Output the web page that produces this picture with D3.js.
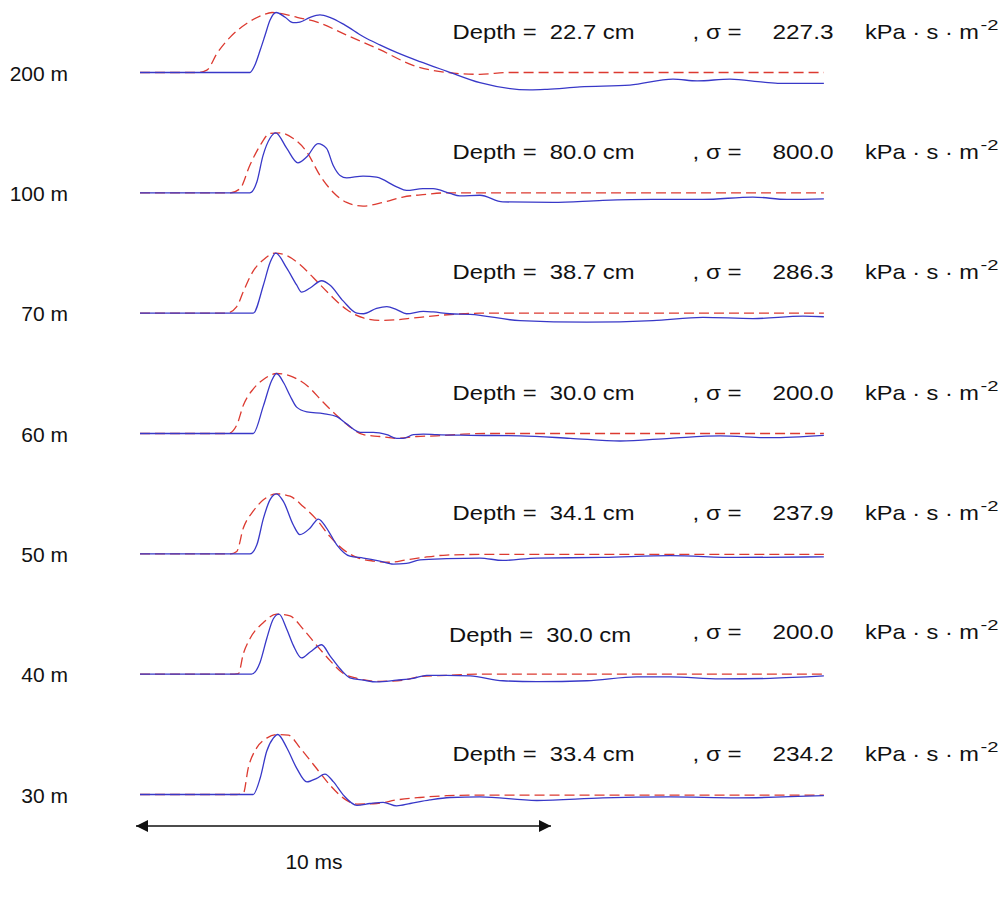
<!DOCTYPE html>
<html>
<head>
<meta charset="utf-8">
<script src="https://cdn.jsdelivr.net/npm/d3@7"></script>
<style>
  html, body { margin: 0; padding: 0; background: #ffffff; }
  svg text { font-family: "Liberation Sans", Arial, sans-serif; fill: #111; }
</style>
</head>
<body>
<div id="chart"></div>
<script>
// Distance from the source, one waveform pair per row (top to bottom)
const distances = ["200 m", "100 m", "70 m", "60 m", "50 m", "40 m", "30 m"];
// Fitted ground parameters for each row
const depths = ["22.7", "80.0", "38.7", "30.0", "34.1", "30.0", "33.4"];
const sigmas = ["227.3", "800.0", "286.3", "200.0", "237.9", "200.0", "234.2"];

// Waveforms: [time in ms, amplitude normalised to the peak]
// measured = solid blue, model = dashed red
const measured200 = [[0,0],[2.68,0],[2.80,0.12],[2.93,0.37],[3.05,0.62],[3.17,0.87],[3.32,1.0],[3.54,0.92],[3.73,0.83],[3.90,0.84],[4.15,0.92],[4.39,0.96],[4.63,0.92],[5.0,0.79],[5.44,0.60],[5.85,0.46],[6.27,0.33],[6.83,0.18],[7.49,0.02],[8.29,-0.17],[9.51,-0.29],[9.93,-0.28],[10.73,-0.24],[11.95,-0.21],[13.0,-0.11],[13.59,-0.14],[14.39,-0.11],[15.2,-0.16],[15.61,-0.18],[16.68,-0.18]];
const model200 = [[0,0],[1.41,0],[1.63,0.04],[1.88,0.32],[2.20,0.59],[2.61,0.82],[3.0,0.96],[3.22,1.0],[3.54,0.97],[3.83,0.92],[4.32,0.84],[5.05,0.62],[5.85,0.38],[6.66,0.12],[7.49,0.0],[8.29,-0.03],[9.0,0],[16.68,0]];

const measured100 = [[0,0],[2.68,0],[2.85,0.18],[3.0,0.62],[3.17,0.91],[3.31,1.0],[3.58,0.74],[3.85,0.50],[4.07,0.6],[4.34,0.82],[4.55,0.74],[4.71,0.46],[4.88,0.29],[5.04,0.25],[5.44,0.28],[5.77,0.26],[6.26,0.10],[6.5,0.04],[6.9,0.07],[7.15,0.07],[7.56,-0.01],[7.8,-0.05],[8.29,-0.04],[8.85,-0.15],[10.07,-0.16],[11.29,-0.125],[12.51,-0.11],[13.73,-0.11],[14.95,-0.07],[15.78,-0.11],[16.68,-0.10]];
const model100 = [[0,0],[2.2,0],[2.44,0.07],[2.68,0.46],[2.93,0.79],[3.17,0.99],[3.41,1.0],[3.73,0.91],[4.07,0.68],[4.39,0.29],[4.71,0.01],[5.04,-0.16],[5.44,-0.22],[5.93,-0.16],[6.41,-0.07],[6.9,-0.03],[7.49,0],[16.68,0]];

const measured70 = [[0,0],[2.76,0],[3.01,0.47],[3.17,0.84],[3.31,1.0],[3.58,0.75],[3.82,0.47],[3.94,0.35],[4.15,0.42],[4.43,0.54],[4.63,0.47],[4.96,0.20],[5.29,0.0],[5.45,-0.01],[5.77,0.08],[6.02,0.11],[6.26,0.06],[6.5,-0.01],[6.91,0.03],[7.15,0.02],[7.56,-0.01],[8.05,-0.02],[9.27,-0.125],[10.9,-0.15],[12.51,-0.125],[13.73,-0.07],[14.95,-0.09],[16.17,-0.05],[16.68,-0.06]];
const model70 = [[0,0],[2.11,0],[2.36,0.11],[2.52,0.36],[2.76,0.70],[3.01,0.89],[3.29,1.0],[3.58,0.96],[3.9,0.81],[4.23,0.59],[4.63,0.31],[5.04,0.06],[5.45,-0.08],[5.85,-0.12],[6.26,-0.11],[6.67,-0.08],[7.24,-0.04],[7.89,-0.01],[8.29,0],[16.68,0]];

const measured60 = [[0,0],[2.76,0],[3.01,0.46],[3.21,0.88],[3.33,1.0],[3.50,0.85],[3.66,0.63],[3.82,0.44],[4.07,0.36],[4.47,0.33],[4.8,0.28],[5.04,0.16],[5.37,0.02],[5.69,0.02],[6.02,-0.02],[6.26,-0.08],[6.42,-0.08],[6.67,-0.02],[6.91,-0.01],[7.24,-0.02],[8.05,-0.03],[9.27,-0.04],[10.49,-0.08],[11.71,-0.125],[12.93,-0.08],[14.15,-0.04],[15.37,-0.07],[16.68,-0.03]];
const model60 = [[0,0],[2.15,0],[2.36,0.14],[2.52,0.47],[2.76,0.74],[3.01,0.90],[3.33,1.0],[3.66,0.96],[4.07,0.80],[4.47,0.52],[4.8,0.30],[5.12,0.11],[5.45,-0.02],[5.85,-0.05],[6.26,-0.08],[6.75,-0.05],[7.24,-0.04],[7.89,-0.01],[8.5,0],[16.68,0]];

const measured50 = [[0,0],[2.68,0],[2.85,0.15],[3.01,0.59],[3.17,0.9],[3.33,1.0],[3.5,0.87],[3.74,0.48],[3.9,0.32],[4.15,0.43],[4.35,0.58],[4.55,0.43],[4.8,0.15],[5.12,-0.04],[5.45,-0.07],[5.85,-0.12],[6.18,-0.17],[6.5,-0.16],[6.83,-0.1],[7.48,-0.08],[8.29,-0.07],[8.85,-0.11],[9.68,-0.07],[11.29,-0.06],[12.93,-0.03],[14.56,-0.06],[16.68,-0.05]];
const model50 = [[0,0],[2.2,0],[2.36,0.04],[2.52,0.43],[2.76,0.71],[3.01,0.9],[3.33,1.0],[3.66,0.96],[3.98,0.79],[4.31,0.57],[4.63,0.29],[4.96,0.07],[5.29,-0.06],[5.69,-0.12],[6.1,-0.14],[6.5,-0.1],[6.91,-0.06],[7.48,-0.02],[8.29,-0.01],[16.68,-0.01]];

const measured40 = [[0,0],[2.72,0],[2.93,0.2],[3.09,0.59],[3.25,0.92],[3.39,1.0],[3.58,0.75],[3.74,0.48],[3.94,0.27],[4.15,0.37],[4.43,0.49],[4.63,0.31],[4.88,0.09],[5.12,-0.06],[5.45,-0.1],[5.77,-0.13],[6.26,-0.1],[6.67,-0.07],[6.99,-0.02],[7.48,-0.02],[8.05,-0.03],[8.85,-0.11],[9.68,-0.125],[10.9,-0.11],[12.12,-0.045],[12.93,-0.045],[14.15,-0.08],[15.37,-0.07],[16.68,-0.03]];
const model40 = [[0,0],[2.2,0],[2.4,0.01],[2.52,0.34],[2.68,0.59],[3.01,0.86],[3.33,1.0],[3.66,0.97],[3.98,0.75],[4.31,0.48],[4.63,0.23],[4.96,0.01],[5.29,-0.07],[5.85,-0.12],[6.42,-0.1],[6.83,-0.04],[7.48,-0.02],[8.29,0],[16.68,0]];

const measured30 = [[0,0],[2.76,0],[2.93,0.27],[3.09,0.72],[3.25,0.94],[3.36,1.0],[3.58,0.78],[3.82,0.44],[4.07,0.21],[4.31,0.27],[4.51,0.34],[4.72,0.21],[4.96,-0.01],[5.29,-0.18],[5.61,-0.15],[5.93,-0.13],[6.26,-0.19],[6.59,-0.15],[7.07,-0.09],[7.56,-0.05],[8.29,-0.04],[9.68,-0.1],[11.29,-0.055],[12.93,-0.04],[14.56,-0.055],[16.68,-0.02]];
const model30 = [[0,0],[2.36,0],[2.52,0.02],[2.64,0.44],[2.85,0.78],[3.09,0.94],[3.33,1.0],[3.62,0.99],[3.9,0.78],[4.23,0.5],[4.63,0.16],[4.96,-0.06],[5.29,-0.16],[5.77,-0.15],[6.26,-0.09],[6.83,-0.05],[7.48,-0.02],[8.29,-0.01],[16.68,-0.01]];

const measured = [measured200, measured100, measured70, measured60, measured50, measured40, measured30];
const model = [model200, model100, model70, model60, model50, model40, model30];

// Time scale bar
const scaleBarMs = 10;
const scaleBarLabel = "10 ms";

// ---------------------------------------------------------------
const width = 1001, height = 902;

const svg = d3.select("#chart").append("svg")
  .attr("width", width).attr("height", height)
  .attr("viewBox", [0, 0, width, height]);

const x = d3.scaleLinear().domain([0, scaleBarMs]).range([140, 550]);
const row = d3.scalePoint().domain(distances).range([72.5, 794.5]);
const amp = d3.scaleLinear().domain([0, 1]).range([0, -60]);

const colorMeasured = "#3838c8";
const colorModel = "#dc3a30";

const line = d3.line()
  .x(d => x(d[0]))
  .y(d => amp(d[1]))
  .curve(d3.curveMonotoneX);

const rows = svg.selectAll("g.row")
  .data(distances.map((name, i) => ({name, i})))
  .join("g")
  .attr("class", "row")
  .attr("transform", d => `translate(0,${row(d.name)})`);

// model (dashed) first, measured trace on top
rows.append("path")
  .attr("d", d => line(model[d.i]))
  .attr("fill", "none")
  .attr("stroke", colorModel)
  .attr("stroke-width", 1.3)
  .attr("stroke-dasharray", "10,5");

rows.append("path")
  .attr("d", d => line(measured[d.i]))
  .attr("fill", "none")
  .attr("stroke", colorMeasured)
  .attr("stroke-width", 1.3);

// distance labels
rows.append("text")
  .attr("x", 68).attr("y", 8)
  .attr("text-anchor", "end")
  .attr("font-size", 21)
  .text(d => d.name);

// parameter annotation per row (the 40 m depth text sits slightly apart)
const annot = rows.append("g")
  .attr("transform", d => d.name === "40 m" ? "translate(0,-1)" : "translate(0,0)");

const fs = 21, textY = -34;

annot.append("text")
  .attr("x", d => d.name === "40 m" ? 449 : 452.5)
  .attr("y", d => d.name === "40 m" ? textY + 3 : textY)
  .attr("font-size", fs)
  .attr("xml:space", "preserve")
  .attr("textLength", 182)
  .attr("lengthAdjust", "spacingAndGlyphs")
  .text(d => `Depth =  ${depths[d.i]} cm`);

annot.append("text")
  .attr("x", 692.5).attr("y", textY)
  .attr("font-size", fs)
  .attr("textLength", 49)
  .attr("lengthAdjust", "spacingAndGlyphs")
  .text(", \u03C3 =");

annot.append("text")
  .attr("x", 772.5).attr("y", textY)
  .attr("font-size", fs)
  .attr("textLength", 61)
  .attr("lengthAdjust", "spacingAndGlyphs")
  .text(d => sigmas[d.i]);

annot.append("text")
  .attr("x", 865).attr("y", textY)
  .attr("font-size", fs)
  .attr("textLength", 114)
  .attr("lengthAdjust", "spacingAndGlyphs")
  .text("kPa \u00B7 s \u00B7 m");

annot.append("text")
  .attr("x", 980.5).attr("y", textY - 9)
  .attr("font-size", 14)
  .attr("textLength", 18)
  .attr("lengthAdjust", "spacingAndGlyphs")
  .text("-2");

// time scale bar with arrowheads at both ends
const defs = svg.append("defs");
defs.append("marker")
  .attr("id", "head")
  .attr("viewBox", "0 0 10 10")
  .attr("refX", 10).attr("refY", 5)
  .attr("markerUnits", "userSpaceOnUse")
  .attr("markerWidth", 19).attr("markerHeight", 12)
  .attr("orient", "auto-start-reverse")
  .append("path")
  .attr("d", "M0,0 L10,5 L0,10 z")
  .attr("fill", "#111");

const barY = 826;
svg.append("line")
  .attr("x1", x(0) - 4).attr("x2", x(scaleBarMs) + 1)
  .attr("y1", barY).attr("y2", barY)
  .attr("stroke", "#111").attr("stroke-width", 1.3)
  .attr("marker-start", "url(#head)")
  .attr("marker-end", "url(#head)");

svg.append("text")
  .attr("x", 314).attr("y", 869)
  .attr("text-anchor", "middle")
  .attr("font-size", 21)
  .text(scaleBarLabel);
</script>
</body>
</html>
